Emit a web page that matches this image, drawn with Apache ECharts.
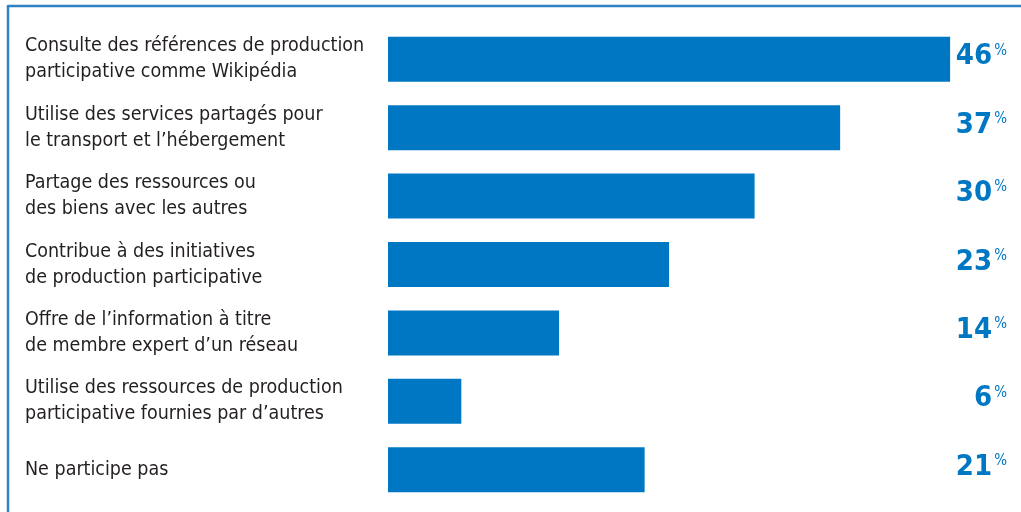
<!DOCTYPE html>
<html>
<head>
<meta charset="utf-8">
<script src="https://cdn.jsdelivr.net/npm/echarts@6/dist/echarts.min.js"></script>
<style>
  html, body { margin: 0; padding: 0; background: #ffffff; }
  #chart { width: 1021px; height: 512px; }
</style>
</head>
<body>
<div id="chart"></div>
<script>
// Activities (top to bottom) and share of respondents, in percent
const categories = [
  "Consulte des références de production\nparticipative comme Wikipédia",
  "Utilise des services partagés pour\nle transport et l\u2019hébergement",
  "Partage des ressources ou\ndes biens avec les autres",
  "Contribue à des initiatives\nde production participative",
  "Offre de l\u2019information à titre\nde membre expert d\u2019un réseau",
  "Utilise des ressources de production\nparticipative fournies par d\u2019autres",
  "Ne participe pas"
];
const values = [46, 37, 30, 23, 14, 6, 21];

const blue = "#0077c3";
const font = "'DejaVu Sans Condensed', 'Liberation Sans Narrow', sans-serif";

const chart = echarts.init(document.getElementById("chart"));
chart.setOption({
  animation: false,
  grid: { left: 388, right: 22, top: 25, bottom: 8, containLabel: false },
  xAxis: {
    type: "value", min: 0, max: 50,
    show: false
  },
  yAxis: [
    {
      type: "category",
      data: categories,
      inverse: true,
      axisLine: { show: false },
      axisTick: { show: false },
      axisLabel: {
        align: "left",
        margin: 363,
        color: "#231f20",
        fontFamily: font,
        fontSize: 19.5,
        lineHeight: 26
      }
    },
    {
      type: "category",
      data: values.map(String),
      inverse: true,
      position: "right",
      axisLine: { show: false },
      axisTick: { show: false },
      axisLabel: {
        align: "right",
        margin: 8,
        padding: [0, 0, 5, 0],
        formatter: v => "{n|" + v + "}{p|%}",
        rich: {
          n: { color: blue, fontFamily: font, fontWeight: "bold", fontSize: 29 },
          p: { color: blue, fontFamily: font, fontSize: 15, padding: [0, 0, 12, 2] }
        }
      }
    }
  ],
  series: [{
    type: "bar",
    data: values,
    barWidth: 45,
    itemStyle: { color: blue },
    silent: true
  }],
  graphic: [
    { type: "line", shape: { x1: 8, y1: 6, x2: 1021, y2: 6 }, style: { stroke: "#2f82c6", lineWidth: 2.5 } },
    { type: "line", shape: { x1: 8, y1: 5, x2: 8, y2: 512 }, style: { stroke: "#2f82c6", lineWidth: 2.5 } }
  ]
});
</script>
</body>
</html>
